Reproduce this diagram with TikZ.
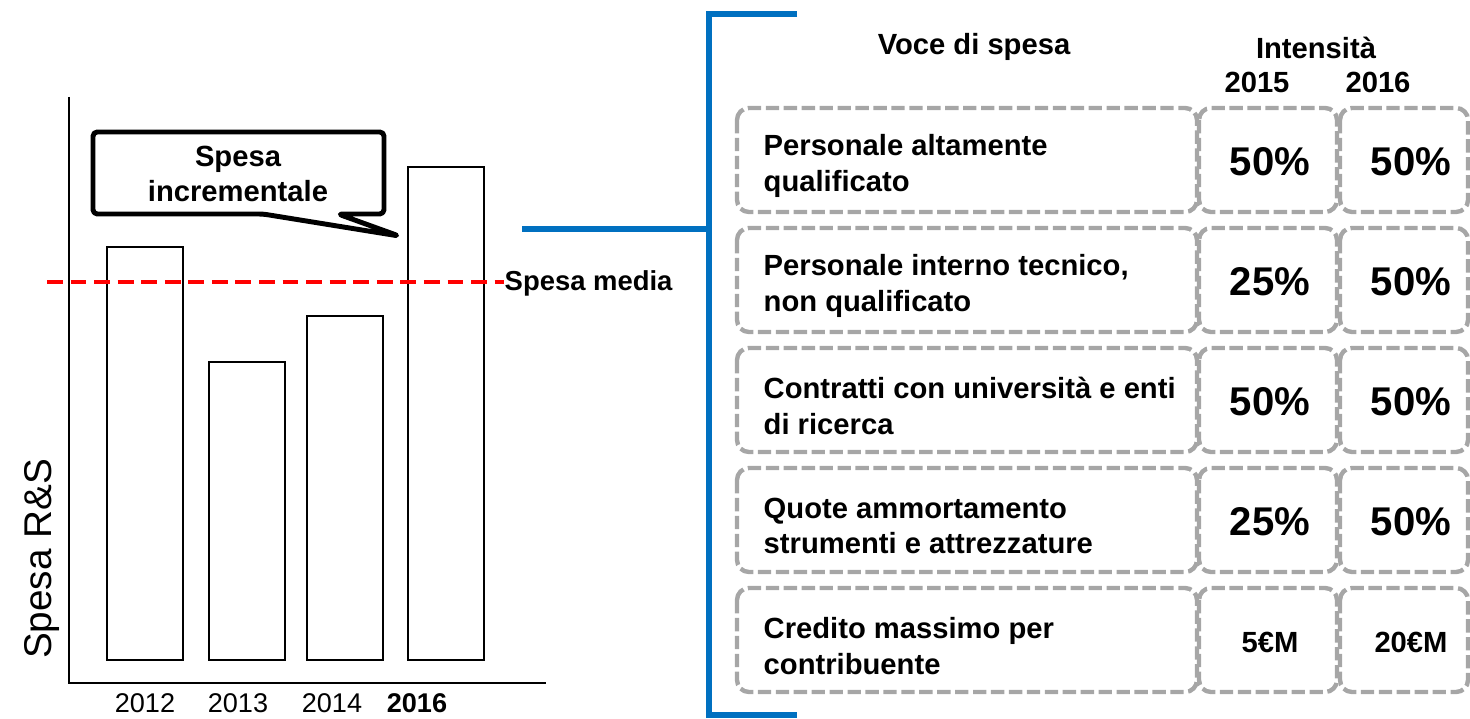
\documentclass[tikz,border=0pt]{standalone}
\usepackage{fontspec}
\setmainfont{Liberation Sans}
\usetikzlibrary{positioning}

\definecolor{bracketblue}{HTML}{0070C0}
\definecolor{boxgray}{HTML}{A6A6A6}
\definecolor{avgred}{HTML}{FF0000}

\tikzset{
    bar/.style={draw, line width=0.6pt},
    rowbox/.style={draw=boxgray, line width=1.25pt, dash pattern=on 3.8pt off 1.3pt, rounded corners=3.4pt},
    cell/.style={font=\fontsize{8.3}{10.2}\selectfont\bfseries, align=left, inner sep=0pt},
    pct/.style={font=\fontsize{11.4}{13}\selectfont\bfseries, inner sep=0pt},
    small/.style={font=\fontsize{8.3}{10}\selectfont\bfseries, inner sep=0pt},
    year/.style={font=\fontsize{7.7}{9}\selectfont, inner sep=0pt},
}

\begin{document}
\begin{tikzpicture}[x=0.01cm, y=-0.01cm]

    \useasboundingbox (0,0) rectangle (1470,719);

    %% Chart of R&S spending
    % Axes
    \draw[line width=0.7pt] (69,97) -- (69,683) -- (546,683);
    \node[rotate=90, font=\fontsize{11}{13}\selectfont, inner sep=0pt] (ylab) at (42,559) {Spesa R\&S};

    % Bars
    \foreach \x/\top in {107/247, 209/362, 307/316, 408/167}
        \draw[bar] (\x,\top) rectangle (\x+76,660);

    % Years
    \node[year] (y12) at (145,703) {2012};
    \node[year] (y13) at (238,703) {2013};
    \node[year] (y14) at (332,703) {2014};
    \node[year, font=\fontsize{7.7}{9}\selectfont\bfseries] (y16) at (417,703) {2016};

    % Average spending
    \node[small, anchor=west, font=\fontsize{7.8}{9}\selectfont\bfseries] (media) at (504,283) {Spesa media};
    \coordinate (avgstart) at (47,282);
    \draw[avgred, line width=1.1pt, dash pattern=on 4.5pt off 2.2pt] (avgstart) -- (media.west |- avgstart);

    % Callout
    \draw[line width=1.4pt, fill=white, rounded corners=1.2pt, line join=round]
        (93,132) -- (384,132) -- (384,214) -- (338,214) -- (399,236) -- (263,214) -- (93,214) -- cycle;
    \node[cell, align=center] (incr) at (238,174) {Spesa\\incrementale};

    %% Bracket
    \draw[bracketblue, line width=1.7pt] (797,14) -- (709,14) -- (709,715) -- (797,715);
    \coordinate (brk) at (709,229);
    \draw[bracketblue, line width=1.7pt] (522,229) -- (brk);

    %% Table
    % Headers
    \node[cell] (voce) at (974,47) {Voce di spesa};
    \node[cell] (intens) at (1316,48) {Intensità};
    \node[cell] (h15) at (1257,82) {2015};
    \node[cell] (h16) at (1378,82) {2016};

    % Rows
    \foreach \i/\txt/\a/\b/\st in {
        0/{Personale altamente\\qualificato}/50\%/50\%/pct,
        1/{Personale interno tecnico,\\non qualificato}/25\%/50\%/pct,
        2/{Contratti con università e enti\\di ricerca}/50\%/50\%/pct,
        3/{Quote ammortamento\\strumenti e attrezzature}/25\%/50\%/pct,
        4/{Credito massimo per\\contribuente}/5€M/20€M/small}
    {
        \pgfmathsetmacro{\ytop}{108+120*\i}
        \draw[rowbox] (737,\ytop) rectangle (1197,\ytop+104);
        \draw[rowbox] (1199,\ytop) rectangle (1337,\ytop+104);
        \draw[rowbox] (1340,\ytop) rectangle (1468,\ytop+104);
        \node[cell, anchor=west] (lab\i) at (763,\ytop+58) {\txt};
        \node[\st] (a\i) at (1270,\ytop+54) {\a};
        \node[\st] (b\i) at (1411,\ytop+54) {\b};
    }

\end{tikzpicture}
\end{document}
